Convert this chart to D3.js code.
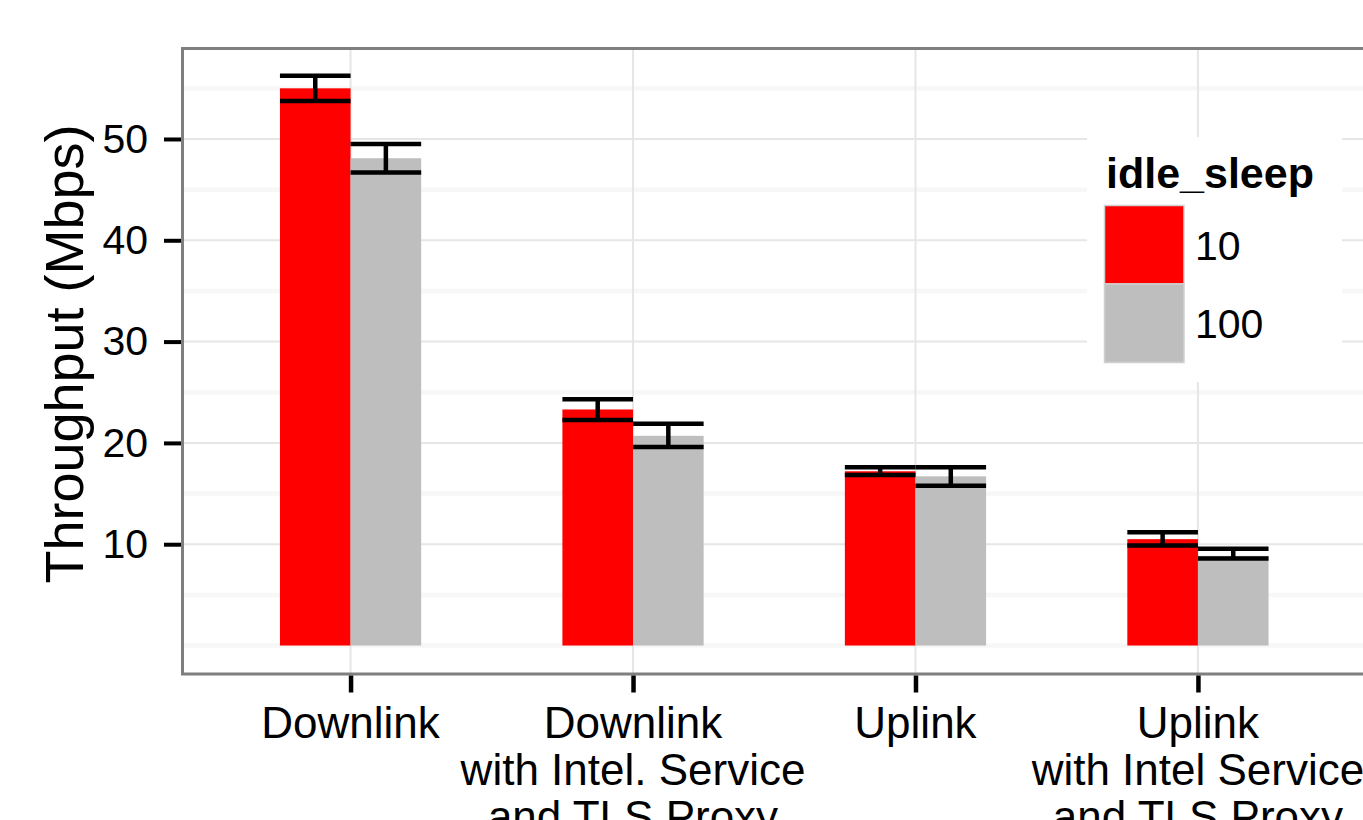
<!DOCTYPE html>
<html>
<head>
<meta charset="utf-8">
<script src="https://cdn.jsdelivr.net/npm/d3@7"></script>
<style>
  html, body { margin: 0; padding: 0; background: #fff; }
  svg { display: block; }
  text { font-family: "Liberation Sans", Arial, Helvetica, sans-serif; fill: #000; }
</style>
</head>
<body>
<svg id="chart" width="1363" height="820"></svg>
<script>
// Categories (multi-line axis labels)
const categories = ["Downlink", "DownlinkTLS", "Uplink", "UplinkTLS"];
const categoryLabels = [
  ["Downlink"],
  ["Downlink", "with Intel. Service", "and TLS Proxy"],
  ["Uplink"],
  ["Uplink", "with Intel Service", "and TLS Proxy"]
];
const groups = ["10", "100"];
const groupColors = ["#ff0000", "#bebebe"];

// Mean throughput (Mbps) and error-bar bounds for each idle_sleep setting
const mean10  = [55.0, 23.3, 17.2, 10.5];
const lo10    = [53.75, 22.25, 16.83, 9.87];
const hi10    = [56.25, 24.3, 17.6, 11.18];
const mean100 = [48.1, 20.7, 16.7, 8.85];
const lo100   = [46.7, 19.6, 15.77, 8.6];
const hi100   = [49.5, 21.9, 17.6, 9.55];

const yTicks = [10, 20, 30, 40, 50];
const yMinor = [0, 5, 15, 25, 35, 45, 55];

const svg = d3.select("#chart");

// Panel geometry
const panel = { left: 182.5, top: 48.5, right: 1366, bottom: 674 };

const x = d3.scalePoint()
  .domain(categories)
  .range([panel.left, panel.right])
  .padding(0.595);
const step = x.step();

const xInner = d3.scaleBand()
  .domain(groups)
  .range([-step * 0.25, step * 0.25]);

const y = d3.scaleLinear()
  .domain([-2.81, 58.93])
  .range([panel.bottom, panel.top]);

const color = d3.scaleOrdinal().domain(groups).range(groupColors);

const rows = [];
categories.forEach((c, i) => {
  rows.push({ cat: c, g: "10",  v: mean10[i],  lo: lo10[i],  hi: hi10[i] });
  rows.push({ cat: c, g: "100", v: mean100[i], lo: lo100[i], hi: hi100[i] });
});

svg.append("defs").append("clipPath").attr("id", "panelClip")
  .append("rect")
  .attr("x", panel.left).attr("y", panel.top)
  .attr("width", panel.right - panel.left).attr("height", panel.bottom - panel.top);

const plot = svg.append("g").attr("clip-path", "url(#panelClip)");

plot.append("rect")
  .attr("x", panel.left).attr("y", panel.top)
  .attr("width", panel.right - panel.left).attr("height", panel.bottom - panel.top)
  .attr("fill", "#fff");

// Minor grid
plot.selectAll(".minor").data(yMinor).enter().append("line")
  .attr("x1", panel.left).attr("x2", panel.right)
  .attr("y1", d => y(d)).attr("y2", d => y(d))
  .attr("stroke", "#f7f7f7").attr("stroke-width", 4.5);

// Major grid
plot.selectAll(".majorY").data(yTicks).enter().append("line")
  .attr("x1", panel.left).attr("x2", panel.right)
  .attr("y1", d => y(d)).attr("y2", d => y(d))
  .attr("stroke", "#e6e6e6").attr("stroke-width", 2);
plot.selectAll(".majorX").data(categories).enter().append("line")
  .attr("y1", panel.top).attr("y2", panel.bottom)
  .attr("x1", d => x(d)).attr("x2", d => x(d))
  .attr("stroke", "#e6e6e6").attr("stroke-width", 2);

// Bars
plot.selectAll(".bar").data(rows).enter().append("rect")
  .attr("x", d => x(d.cat) + xInner(d.g))
  .attr("width", xInner.bandwidth())
  .attr("y", d => y(d.v))
  .attr("height", d => y(0) - y(d.v))
  .attr("fill", d => color(d.g));

// Error bars
const eb = plot.selectAll(".eb").data(rows).enter().append("g")
  .attr("stroke", "#000").attr("stroke-width", 4.5);
eb.append("line")
  .attr("x1", d => x(d.cat) + xInner(d.g) + xInner.bandwidth() / 2)
  .attr("x2", d => x(d.cat) + xInner(d.g) + xInner.bandwidth() / 2)
  .attr("y1", d => y(d.lo)).attr("y2", d => y(d.hi));
eb.append("line")
  .attr("x1", d => x(d.cat) + xInner(d.g))
  .attr("x2", d => x(d.cat) + xInner(d.g) + xInner.bandwidth())
  .attr("y1", d => y(d.hi)).attr("y2", d => y(d.hi));
eb.append("line")
  .attr("x1", d => x(d.cat) + xInner(d.g))
  .attr("x2", d => x(d.cat) + xInner(d.g) + xInner.bandwidth())
  .attr("y1", d => y(d.lo)).attr("y2", d => y(d.lo));

// Legend (inside the panel)
const lg = svg.append("g");
lg.append("rect")
  .attr("x", 1087).attr("y", 137).attr("width", 255).attr("height", 245)
  .attr("fill", "#fff");
lg.append("text")
  .attr("x", 1106).attr("y", 188)
  .attr("font-size", 43).attr("font-weight", "bold")
  .text("idle_sleep");
const keyH = 78.5;
groups.forEach((g, i) => {
  lg.append("rect")
    .attr("x", 1104.5).attr("y", 205.5 + i * keyH)
    .attr("width", 79.5).attr("height", keyH)
    .attr("fill", color(g))
    .attr("stroke", "#d0d0d0").attr("stroke-width", 1.5);
  lg.append("text")
    .attr("x", 1195).attr("y", 205.5 + i * keyH + keyH / 2 + 15)
    .attr("font-size", 41)
    .text(g);
});

// Panel border
svg.append("rect")
  .attr("x", panel.left).attr("y", panel.top)
  .attr("width", panel.right - panel.left).attr("height", panel.bottom - panel.top)
  .attr("fill", "none").attr("stroke", "#7f7f7f").attr("stroke-width", 3);

// Y axis
const yAxis = svg.append("g")
  .attr("transform", `translate(${panel.left - 1.5},0)`)
  .call(d3.axisLeft(y).tickValues(yTicks).tickSize(17).tickPadding(16).tickFormat(d3.format("d")));
yAxis.select(".domain").remove();
yAxis.selectAll(".tick line").attr("stroke", "#000").attr("stroke-width", 4);
yAxis.selectAll(".tick text")
  .attr("font-size", 41)
  .attr("font-family", "Liberation Sans, Arial, sans-serif")
  .attr("fill", "#000");

// X axis
const xAxis = svg.append("g")
  .attr("transform", `translate(0,${panel.bottom + 1.5})`)
  .call(d3.axisBottom(x).tickSize(17).tickFormat(""));
xAxis.select(".domain").remove();
xAxis.selectAll(".tick line").attr("stroke", "#000").attr("stroke-width", 4.5);

const xl = svg.append("g");
categories.forEach((c, i) => {
  const t = xl.append("text")
    .attr("text-anchor", "middle")
    .attr("font-size", 44);
  categoryLabels[i].forEach((line, j) => {
    t.append("tspan")
      .attr("x", x(c))
      .attr("y", 738 + j * 47)
      .text(line);
  });
});

// Y axis title
svg.append("text")
  .attr("transform", "translate(83,354) rotate(-90)")
  .attr("text-anchor", "middle")
  .attr("font-size", 54)
  .text("Throughput (Mbps)");
</script>
</body>
</html>
